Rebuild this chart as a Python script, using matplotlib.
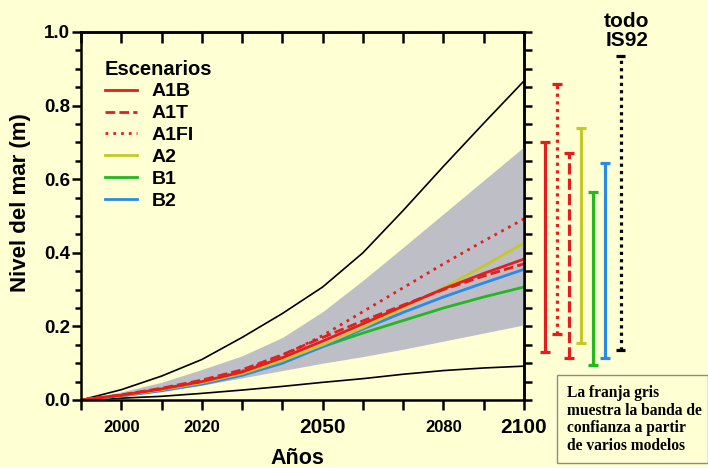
import matplotlib.pyplot as plt
from matplotlib.ticker import MultipleLocator
from matplotlib.patches import Rectangle

plt.rcParams['font.family'] = ['Liberation Sans', 'DejaVu Sans']
plt.rcParams['font.weight'] = 'bold'

years = [1990, 2000, 2010, 2020, 2030, 2040, 2050, 2060, 2070, 2080, 2090, 2100]

# grey confidence band and black envelope
band_low = [0, 0.01, 0.025, 0.04, 0.06, 0.08, 0.1, 0.118, 0.138, 0.16, 0.182, 0.204]
band_high = [0, 0.022, 0.048, 0.083, 0.12, 0.17, 0.24, 0.325, 0.415, 0.506, 0.597, 0.688]
env_high = [0, 0.028, 0.065, 0.11, 0.17, 0.235, 0.307, 0.40, 0.515, 0.635, 0.752, 0.867]
env_low = [0, 0.005, 0.01, 0.018, 0.027, 0.037, 0.048, 0.058, 0.07, 0.08, 0.087, 0.092]

# scenario curves
a1b = [0, 0.013, 0.03, 0.05, 0.076, 0.115, 0.16, 0.207, 0.255, 0.302, 0.344, 0.383]
a1t = [0, 0.014, 0.032, 0.054, 0.082, 0.123, 0.17, 0.215, 0.258, 0.30, 0.337, 0.37]
a1fi = [0, 0.013, 0.03, 0.05, 0.078, 0.12, 0.175, 0.24, 0.305, 0.37, 0.432, 0.492]
a2 = [0, 0.012, 0.028, 0.047, 0.072, 0.107, 0.15, 0.197, 0.25, 0.305, 0.364, 0.427]
b1 = [0, 0.012, 0.027, 0.046, 0.07, 0.105, 0.145, 0.182, 0.216, 0.25, 0.28, 0.307]
b2 = [0, 0.011, 0.025, 0.043, 0.067, 0.10, 0.145, 0.193, 0.238, 0.28, 0.318, 0.355]

# ranges at 2100 (right-hand bars)
bar_names = ['A1B', 'A1FI', 'A1T', 'A2', 'B1', 'B2', 'IS92']
bar_low = [0.13, 0.18, 0.115, 0.155, 0.095, 0.115, 0.135]
bar_high = [0.70, 0.86, 0.67, 0.74, 0.565, 0.645, 0.935]

xlabels = {2000: 12, 2020: 12, 2050: 15, 2080: 12, 2100: 15}

bg = '#FFFFD4'
red = '#E41E1E'
yellow = '#C6C82A'
green = '#22B822'
blue = '#2A8AE8'

fig = plt.figure(figsize=(7.08, 4.68), dpi=100, facecolor=bg)
ax = fig.add_axes([81/708, 68/468, 443/708, 368/468], facecolor=bg)

ax.fill_between(years, band_low, band_high, color='#BEBEC6', lw=0)
ax.plot(years, env_high, color='black', lw=1.2)
ax.plot(years, env_low, color='black', lw=1.2)

series = [
    ('B1', b1, green, '-'),
    ('B2', b2, blue, '-'),
    ('A2', a2, yellow, '-'),
    ('A1FI', a1fi, red, (0, (1, 1.8))),
    ('A1T', a1t, red, (0, (3.5, 1.5))),
    ('A1B', a1b, red, '-'),
]
handles = {}
for name, vals, c, ls in series:
    ln, = ax.plot(years, vals, color=c, ls=ls, lw=2, label=name)
    handles[name] = ln

order = ['A1B', 'A1T', 'A1FI', 'A2', 'B1', 'B2']
ax.legend([handles[n] for n in order], order, loc='upper left',
          bbox_to_anchor=(0.054, 0.925), frameon=False, title='Escenarios',
          prop=dict(weight='bold', size=14),
          title_fontproperties=dict(weight='bold', size=14.5),
          alignment='left', handlelength=1.65, handletextpad=0.75,
          labelspacing=0.22, borderaxespad=0, borderpad=0)

ax.set_xlim(1990, 2100)
ax.set_ylim(0, 1)
for s in ax.spines.values():
    s.set_linewidth(1.8)

ax.set_xticks(years)
ax.set_xticklabels([str(y) if y in xlabels else '' for y in years])
for lab, y in zip(ax.get_xticklabels(), years):
    lab.set_verticalalignment('center')
    if y in xlabels:
        lab.set_fontsize(xlabels[y])
ax.tick_params(axis='x', direction='out', length=7.5, width=1.8, pad=12.5)

ax.yaxis.set_major_locator(MultipleLocator(0.2))
ax.yaxis.set_minor_locator(MultipleLocator(0.05))
ax.yaxis.set_major_formatter(lambda v, p: f'{v:.1f}')
ax.tick_params(axis='y', which='major', direction='out', length=6.5, width=1.8,
               pad=1.5, labelsize=13.5)
ax.tick_params(axis='y', which='minor', direction='out', length=4.3, width=1.8)

top = ax.secondary_xaxis('top')
top.set_xticks(years)
top.set_xticklabels([])
top.tick_params(direction='in', length=8, width=1.8)
top.spines['top'].set_linewidth(1.8)

right = ax.secondary_yaxis('right')
right.yaxis.set_major_locator(MultipleLocator(0.05))
right.set_yticklabels([])
right.tick_params(direction='out', length=5.8, width=1.8)
right.spines['right'].set_linewidth(1.8)

# range bars on the right
ax2 = fig.add_axes([539/708, 68/468, 87.6/708, 368/468])
ax2.set_xlim(-0.5, 6.8)
ax2.set_ylim(0, 1)
ax2.axis('off')
bar_pos = [0, 1, 2, 3, 4, 5, 6.3]
bar_colors = [red, red, red, yellow, green, blue, 'black']
bar_styles = ['-', (0, (1, 1.4)), (0, (3.5, 1.3)), '-', '-', '-', (0, (1, 1.3))]
for x, lo, hi, c, ls in zip(bar_pos, bar_low, bar_high, bar_colors, bar_styles):
    ax2.vlines(x, lo, hi, colors=c, linestyles=[ls], lw=2.3, clip_on=False)
    ax2.hlines([lo, hi], x - 0.4, x + 0.4, colors=c, lw=2.3, clip_on=False)

fig.text(627/708, 1 - 31/468, 'todo\nIS92', ha='center', va='center',
         fontsize=15, weight='bold', linespacing=1.05)

fig.text(21/708, 1 - 203/468, 'Nivel del mar (m)', rotation=90, ha='center',
         va='center', fontsize=16, weight='bold')
fig.text(297/708, 1 - 459/468, 'Años', ha='center', va='center',
         fontsize=15.5, weight='bold')

fig.patches.append(Rectangle((557/708, 5/468), 151/708, 88/468,
                             transform=fig.transFigure, fill=False,
                             ec='#8C8C80', lw=1))
fig.text(567/708, 1 - 419.5/468,
         'La franja gris\nmuestra la banda de\nconfianza a partir\nde varios modelos',
         ha='left', va='center', family='Liberation Serif', fontsize=11.2,
         weight='bold', linespacing=1.12)

fig.savefig('out.png', dpi=100, facecolor=bg)
